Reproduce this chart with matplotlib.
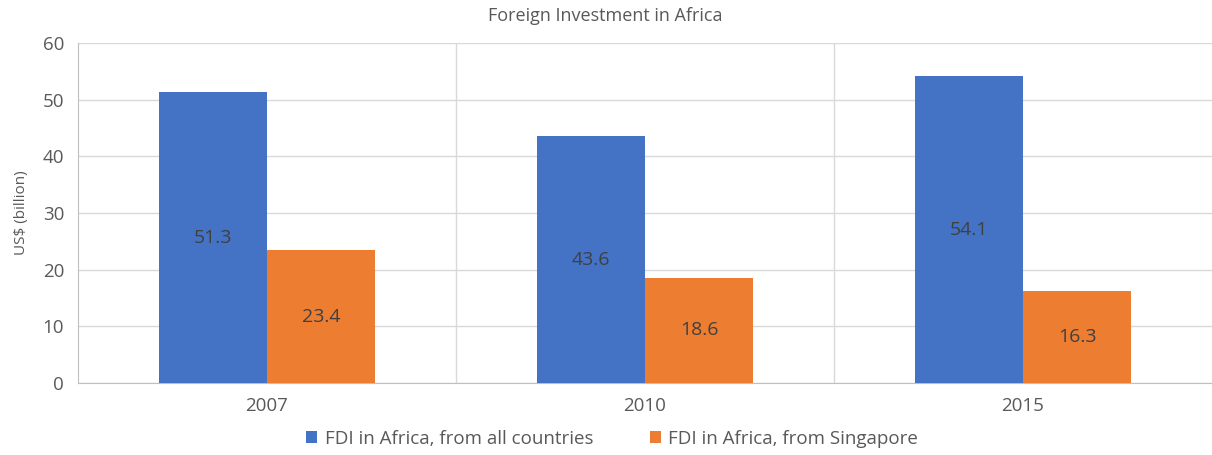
import numpy as np
import matplotlib.pyplot as plt

years = ['2007', '2010', '2015']
all_countries = [51.3, 43.6, 54.1]
singapore = [23.4, 18.6, 16.3]
series_names = ['FDI in Africa, from all countries', 'FDI in Africa, from Singapore']

plt.rcParams['font.family'] = ['Open Sans', 'DejaVu Sans']
txt = '#595959'
grid = '#D9D9D9'

fig = plt.figure(figsize=(12.12, 4.55), dpi=100)
ax = fig.add_axes([0.0644, 0.158, 0.9356, 0.7475])

x = np.arange(len(years))
w = 0.286
b1 = ax.bar(x - w/2, all_countries, w, color='#4472C4', label=series_names[0], zorder=3)
b2 = ax.bar(x + w/2, singapore, w, color='#ED7D31', label=series_names[1], zorder=3)

for bars in (b1, b2):
    for r in bars:
        h = r.get_height()
        ax.text(r.get_x() + r.get_width()/2, h/2, f'{h:.1f}', ha='center', va='center',
                fontsize=14, color='#404040', zorder=4)

ax.set_xlim(-0.5, 2.5)
ax.set_ylim(0, 60)
ax.set_yticks(range(0, 61, 10))
ax.set_xticks(x)
ax.set_xticklabels(years)
ax.yaxis.grid(True, color=grid, lw=1, zorder=0)
for xv in [0.5, 1.5]:
    ax.axvline(xv, color=grid, lw=1, zorder=0)
for s in ['top', 'right']:
    ax.spines[s].set_visible(False)
for s in ['left', 'bottom']:
    ax.spines[s].set_color('#BFBFBF')
ax.tick_params(axis='both', length=0, labelsize=13.5, colors=txt, pad=10)
ax.tick_params(axis='x', pad=10)
ax.set_ylabel('US$ (billion)', fontsize=11, color=txt, labelpad=10)
ax.set_title('Foreign Investment in Africa', fontsize=13, color=txt, pad=16, x=0.465)

ax.legend(loc='upper center', bbox_to_anchor=(0.471, -0.115), ncol=2, frameon=False,
          fontsize=13.5, labelcolor=txt, handlelength=0.6, handleheight=0.6,
          columnspacing=3.0, handletextpad=0.4, borderaxespad=0)

fig.savefig('out.png', dpi=100)
